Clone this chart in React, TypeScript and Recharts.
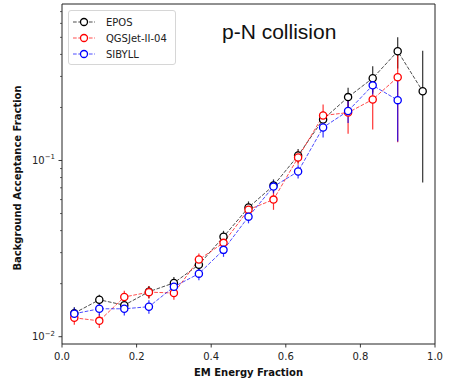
import React from 'react';
import {
  LineChart,
  Line,
  XAxis,
  YAxis,
  ErrorBar,
  ReferenceArea,
  Legend,
} from 'recharts';

// bin centres of the EM energy fraction
const xs = [0.033, 0.1, 0.167, 0.233, 0.3, 0.367, 0.433, 0.5, 0.567, 0.633, 0.7, 0.767, 0.833, 0.9, 0.967];

const epos = [0.0136, 0.0162, 0.0151, 0.018, 0.0202, 0.0256, 0.0369, 0.0541, 0.0721, 0.1067, 0.171, 0.229, 0.293, 0.417, 0.247];
const qgs = [0.0128, 0.0123, 0.0168, 0.0179, 0.0177, 0.0274, 0.0341, 0.0526, 0.06, 0.104, 0.18, 0.187, 0.222, 0.297, null];
const sibyll = [0.0135, 0.0144, 0.0144, 0.0148, 0.0192, 0.0228, 0.0311, 0.048, 0.0711, 0.0866, 0.154, 0.191, 0.267, 0.22, null];

const eposErr = [0.0011, 0.0011, 0.0012, 0.0014, 0.0016, 0.002, 0.003, 0.0045, 0.006, 0.0095, 0.018, 0.03, 0.05, 0.084, 0.172];
const qgsErr: any[] = [0.0011, 0.0011, 0.0014, 0.0015, 0.0015, 0.0023, 0.003, 0.0045, 0.0075, 0.0095, 0.028, 0.045, 0.072, [0.17, 0.1], null];
const sibyllErr = [0.0011, 0.0012, 0.0012, 0.0013, 0.0016, 0.0019, 0.0027, 0.004, 0.006, 0.0075, 0.019, 0.028, 0.03, 0.092, null];

const xTicks = [0, 0.2, 0.4, 0.6, 0.8, 1.0];
const yMajor = [0.01, 0.1];
const yMinor = [0.02, 0.03, 0.04, 0.05, 0.06, 0.07, 0.08, 0.09, 0.2, 0.3, 0.4, 0.5, 0.6, 0.7];
const yDomain: [number, number] = [0.00909, 0.773];

const FONT = '"DejaVu Sans", sans-serif';

const data = xs.map((x, i) => ({
  x,
  epos: epos[i],
  qgs: qgs[i],
  sibyll: sibyll[i],
  eposErr: eposErr[i],
  qgsErr: qgsErr[i],
  sibyllErr: sibyllErr[i],
}));

const XTick = (props: any) => {
  const { x, y, payload } = props;
  return (
    <g>
      <line x1={x} x2={x} y1={y} y2={y + 3.5} stroke="#222" strokeWidth={0.9} />
      <text x={x} y={y + 16} textAnchor="middle" fontFamily={FONT} fontSize={10} fill="#222">
        {payload.value.toFixed(1)}
      </text>
    </g>
  );
};

const YTick = (props: any) => {
  const { x, y, payload } = props;
  const major = yMajor.includes(payload.value);
  if (!major) {
    return <line x1={x} x2={x - 2} y1={y} y2={y} stroke="#222" strokeWidth={0.7} />;
  }
  const exp = Math.round(Math.log10(payload.value));
  return (
    <g>
      <line x1={x} x2={x - 3.5} y1={y} y2={y} stroke="#222" strokeWidth={0.9} />
      <text x={x - 7} y={y + 3.5} textAnchor="end" fontFamily={FONT} fontSize={10} fill="#222">
        <tspan>10</tspan>
        <tspan dy={-4.5} fontSize={7}>{'\u2212' + Math.abs(exp)}</tspan>
      </text>
    </g>
  );
};

const LegendBox = (props: any) => {
  const { payload } = props;
  return (
    <div
      style={{
        border: '1px solid #d6d6d6',
        borderRadius: 3,
        background: 'rgba(255,255,255,0.85)',
        padding: '3px 0 2px 4px',
        width: 108,
        boxSizing: 'border-box',
      }}
    >
      {(payload || []).map((p: any) => (
        <div key={p.value} style={{ display: 'flex', alignItems: 'center', height: 16 }}>
          <svg width={24} height={10} style={{ overflow: 'visible' }}>
            <line x1={0} x2={22} y1={5} y2={5} stroke={p.color} strokeOpacity={0.7} strokeDasharray="3.7 1.6" />
            <circle cx={11} cy={5} r={3.5} fill="#fff" stroke={p.color} strokeWidth={1.3} />
          </svg>
          <span style={{ fontFamily: FONT, fontSize: 10, color: '#222', marginLeft: 9 }}>{p.value}</span>
        </div>
      ))}
    </div>
  );
};

const series = [
  { key: 'epos', err: 'eposErr', name: 'EPOS', color: '#000000' },
  { key: 'qgs', err: 'qgsErr', name: 'QGSJet-II-04', color: '#ff0000' },
  { key: 'sibyll', err: 'sibyllErr', name: 'SIBYLL', color: '#0000ff' },
];

export default function App() {
  return (
    <div style={{ position: 'absolute', left: 0, top: 0, width: 451, height: 380, background: '#fff' }}>
      <LineChart width={451} height={380} data={data} margin={{ top: 4, right: 16, bottom: 0, left: 0 }}>
        <XAxis
          dataKey="x"
          type="number"
          domain={[0, 1]}
          ticks={xTicks}
          interval={0}
          height={36}
          axisLine={false}
          tickLine={false}
          tickSize={0}
          tickMargin={0}
          tick={<XTick />}
          label={{
            content: (p: any) => {
              const vb = p.viewBox;
              return (
                <text
                  x={vb.x + vb.width / 2}
                  y={vb.y + 32}
                  textAnchor="middle"
                  fontFamily={FONT}
                  fontSize={10}
                  fontWeight="bold"
                  fill="#111"
                >
                  EM Energy Fraction
                </text>
              );
            },
          }}
        />
        <YAxis
          type="number"
          scale="log"
          domain={yDomain}
          allowDataOverflow
          ticks={[...yMajor, ...yMinor]}
          interval={0}
          width={62}
          axisLine={false}
          tickLine={false}
          tickSize={0}
          tickMargin={0}
          tick={<YTick />}
          label={{
            content: (p: any) => {
              const vb = p.viewBox;
              const cx = vb.x + 17;
              const cy = vb.y + vb.height / 2 + 4;
              return (
                <text
                  x={cx}
                  y={cy}
                  transform={`rotate(-90 ${cx} ${cy})`}
                  textAnchor="middle"
                  dominantBaseline="central"
                  fontFamily={FONT}
                  fontSize={10}
                  fontWeight="bold"
                  fill="#111"
                >
                  Background Acceptance Fraction
                </text>
              );
            },
          }}
        />
        <ReferenceArea
          x1={0}
          x2={1}
          y1={yDomain[0]}
          y2={yDomain[1]}
          fill="none"
          stroke="#222"
          strokeWidth={1}
          ifOverflow="visible"
        />
        <Legend
          layout="vertical"
          align="center"
          verticalAlign="middle"
          content={<LegendBox />}
          wrapperStyle={{ left: 68, top: 10, width: 108 }}
        />
        {series.map((s) => (
          <Line
            key={s.key}
            dataKey={s.key}
            name={s.name}
            stroke={s.color}
            strokeOpacity={0.7}
            strokeWidth={1}
            strokeDasharray="3.7 1.6"
            isAnimationActive={false}
            connectNulls={false}
            dot={{ r: 3.6, fill: '#fff', stroke: s.color, strokeWidth: 1.3, strokeOpacity: 1, strokeDasharray: '0' }}
            activeDot={false}
          >
            <ErrorBar dataKey={s.err} direction="y" width={0} stroke={s.color} strokeWidth={1.2} strokeOpacity={0.8} />
          </Line>
        ))}
      </LineChart>
      <div
        style={{
          position: 'absolute',
          left: 222,
          top: 20,
          fontFamily: '"Liberation Sans", Arial, sans-serif',
          fontSize: 21,
          color: '#111',
          whiteSpace: 'nowrap',
        }}
      >
        p-N collision
      </div>
    </div>
  );
}
